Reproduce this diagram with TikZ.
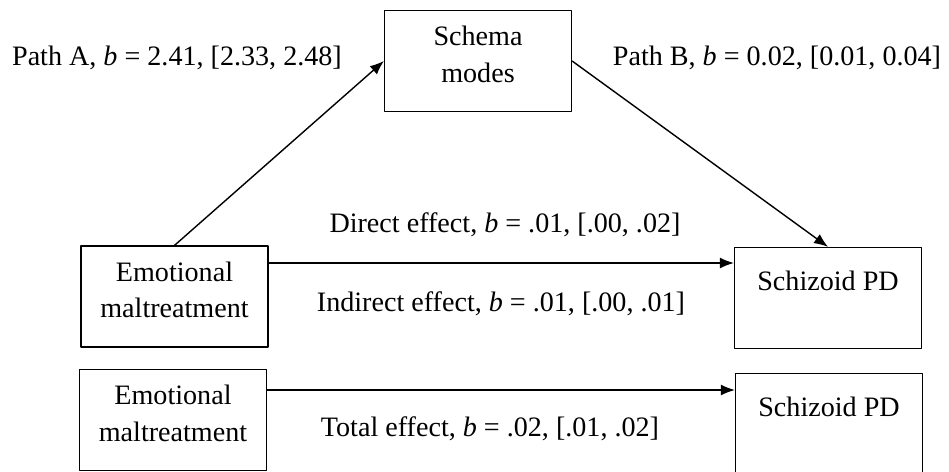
\documentclass[tikz,border=0pt]{standalone}
\usepackage{fontspec}
\setmainfont{Liberation Serif}
\usetikzlibrary{arrows.meta}
\tikzset{
  box/.style={draw, line width=0.7pt, minimum width=3.74cm, minimum height=2.02cm, align=center, inner sep=2pt},
  inbox/.style={box, text depth=0.27cm},
  outbox/.style={box, text height=0.4cm, text depth=0.7cm},
  lbl/.style={inner sep=0pt}
}
\begin{document}
\begin{tikzpicture}[x=0.02cm,y=-0.02cm,font=\fontsize{16}{20.5}\selectfont,line join=round,line width=0.8pt,>={Latex[length=2.8mm,width=2.2mm]}]
\useasboundingbox (0,0) rectangle (949,472);
\clip (0,0) rectangle (949,472);
% boxes
\node[inbox] (schema) at (478,61) {Schema\\modes};
\node[inbox] (emo1) at (174.5,296.5) {Emotional\\maltreatment};
\node[outbox] (spd1) at (828,298) {Schizoid PD};
\node[inbox] (emo2) at (173,420) {Emotional\\maltreatment};
\node[outbox] (spd2) at (829,424) {Schizoid PD};
% paths
\draw[->] (emo1.north) -- (schema.west);
\draw[->] (schema.east) -- (spd1.north);
\draw[->] ([yshift=0.67cm]emo1.east) -- ([yshift=0.67cm]emo1.east -| spd1.west);
\draw[->] ([yshift=0.6cm]emo2.east) -- ([yshift=0.6cm]emo2.east -| spd2.west);
% labels
\node[lbl] (pathA) at (177,58) {Path A, \textit{b} = 2.41, [2.33, 2.48]};
\node[lbl] (pathB) at (777,58) {Path B, \textit{b} = 0.02, [0.01, 0.04]};
\node[lbl] (direct) at (505,225) {Direct effect, \textit{b} = .01, [.00, .02]};
\node[lbl] (indirect) at (501,304) {Indirect effect, \textit{b} = .01, [.00, .01]};
\node[lbl] (total) at (490,429) {Total effect, \textit{b} = .02, [.01, .02]};
\end{tikzpicture}
\end{document}
